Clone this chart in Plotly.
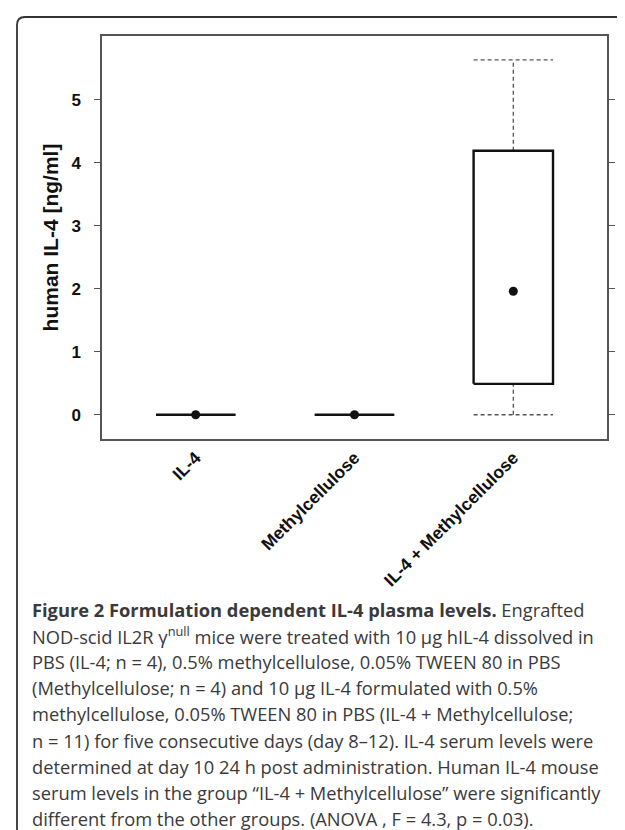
import plotly.graph_objects as go

# ---- data ----
categories = ["IL-4", "Methylcellulose", "IL-4 + Methylcellulose"]
lower_whisker = [0.0, 0.0, 0.0]
q1_values = [0.0, 0.0, 0.49]
median_values = [0.0, 0.0, 1.96]
q3_values = [0.0, 0.0, 4.19]
upper_whisker = [0.0, 0.0, 5.63]
y_ticks = [0, 1, 2, 3, 4, 5]

caption_lines = [
    "<b>Figure 2 Formulation dependent IL-4 plasma levels.</b> Engrafted",
    "NOD-scid IL2R γ<sup>null</sup> mice were treated with 10 µg hIL-4 dissolved in",
    "PBS (IL-4; n = 4), 0.5% methylcellulose, 0.05% TWEEN 80 in PBS",
    "(Methylcellulose; n = 4) and 10 µg IL-4 formulated with 0.5%",
    "methylcellulose, 0.05% TWEEN 80 in PBS (IL-4 + Methylcellulose;",
    "n = 11) for five consecutive days (day 8–12). IL-4 serum levels were",
    "determined at day 10 24 h post administration. Human IL-4 mouse",
    "serum levels in the group “IL-4 + Methylcellulose” were significantly",
    "different from the other groups. (ANOVA , F = 4.3, p = 0.03).",
]

# ---- layout geometry ----
W, H = 625, 830
ML, MR, MT = 94, 26, 28
PLOT_BOTTOM = 431
MB = H - PLOT_BOTTOM
PW = W - ML - MR
PH = PLOT_BOTTOM - MT
HALF = 0.25


def px_x(px):
    return (px - ML) / PW


def px_y(py):
    return (PLOT_BOTTOM - py) / PH


positions = [i + 1 for i in range(len(categories))]

# whiskers (dashed) and caps
wx, wy = [], []
for p, lo, a, b, hi in zip(positions, lower_whisker, q1_values, q3_values, upper_whisker):
    wx += [p, p, None, p, p, None, p - HALF, p + HALF, None, p - HALF, p + HALF, None]
    wy += [lo, a, None, b, hi, None, lo, lo, None, hi, hi, None]

# boxes
bx, by = [], []
for p, a, b in zip(positions, q1_values, q3_values):
    bx += [p - HALF, p + HALF, p + HALF, p - HALF, p - HALF, None]
    by += [a, a, b, b, a, None]

fig = go.Figure()
fig.add_trace(go.Scatter(x=wx, y=wy, mode="lines",
                         line=dict(color="#555555", width=1.3, dash="4px,3px"),
                         hoverinfo="skip", showlegend=False))
fig.add_trace(go.Scatter(x=bx, y=by, mode="lines",
                         line=dict(color="#111111", width=2.4),
                         hoverinfo="skip", showlegend=False))
fig.add_trace(go.Scatter(x=positions, y=median_values, mode="markers",
                         marker=dict(color="#111111", size=9),
                         showlegend=False))

tick_font = dict(family="Liberation Sans, Arial, sans-serif", size=17,
                 color="#111111", weight="bold")

fig.update_xaxes(range=[0.41, 3.59], tickvals=positions, ticktext=categories,
                 tickangle=-45, tickfont=dict(tick_font, size=17.5), ticks="",
                 showline=True, linecolor="#555555", linewidth=1.5, mirror=True,
                 showgrid=False, zeroline=False, automargin=False)
fig.update_yaxes(range=[-0.385, 6.01], tickvals=y_ticks, tickfont=tick_font,
                 ticks="outside", ticklen=6, tickwidth=1.3, tickcolor="#555555",
                 ticklabelstandoff=10,
                 showline=True, linecolor="#555555", linewidth=1.5, mirror="ticks",
                 showgrid=False, zeroline=False, automargin=False,
                 title=dict(text="human IL-4 [ng/ml]", standoff=7,
                            font=dict(family="Liberation Sans, Arial, sans-serif",
                                      size=21, color="#111111", weight="bold")))

# caption
for i, line in enumerate(caption_lines):
    fig.add_annotation(text=line, xref="paper", yref="paper",
                       x=px_x(22), y=px_y(601 + 26.2 * i),
                       xanchor="left", yanchor="middle", showarrow=False,
                       font=dict(family="Open Sans, sans-serif", size=18.3, color="#3a3a3a"))

# outer rounded frame
x0, y0, x1, y1, r = 9, 9, 660, 829, 8
path = (f"M {px_x(x1)},{px_y(y0)} L {px_x(x0 + r)},{px_y(y0)} "
        f"Q {px_x(x0)},{px_y(y0)} {px_x(x0)},{px_y(y0 + r)} "
        f"L {px_x(x0)},{px_y(y1 - r)} "
        f"Q {px_x(x0)},{px_y(y1)} {px_x(x0 + r)},{px_y(y1)} "
        f"L {px_x(x1)},{px_y(y1)}")
fig.add_shape(type="path", path=path, xref="paper", yref="paper",
              line=dict(color="#333333", width=1.8))

fig.update_layout(width=W, height=H,
                  margin=dict(l=ML, r=MR, t=MT, b=MB, autoexpand=False),
                  paper_bgcolor="white", plot_bgcolor="white",
                  showlegend=False)

fig.write_html("out.html")
